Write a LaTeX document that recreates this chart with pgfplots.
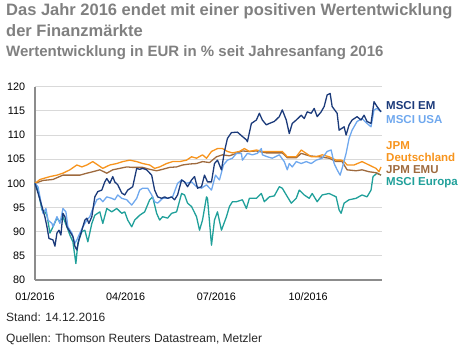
\documentclass[border=0pt]{standalone}
\usepackage{fontspec}
\setmainfont{Liberation Sans}
\usepackage{pgfplots}
\pgfplotsset{compat=1.18}
\definecolor{em}{HTML}{1B3A7A}
\definecolor{usa}{HTML}{6FA8EE}
\definecolor{de}{HTML}{F7941D}
\definecolor{emu}{HTML}{9E6A3E}
\definecolor{eur}{HTML}{20A09A}
\definecolor{titlegrey}{HTML}{808080}
\definecolor{axisgrey}{HTML}{8C8C8C}
\definecolor{gridgrey}{HTML}{D9D9D9}
\begin{document}
\begin{tikzpicture}
\useasboundingbox (0pt,0pt) rectangle (467pt,355pt);
\begin{axis}[at={(35pt,75pt)}, anchor=south west, scale only axis,
  width=347pt, height=193.3pt,
  xmin=0, xmax=348, ymin=80, ymax=120,
  axis x line*=bottom, axis y line*=left,
  axis line style={-, draw=axisgrey, line width=2.2pt},
  ytick={80,85,...,120},
  xtick={0,91,182,274},
  xticklabels={01/2016,04/2016,07/2016,10/2016},
  ymajorgrids, grid style={gridgrey, line width=0.8pt},
  major tick length=0pt,
  tick label style={font=\fontsize{10.8}{12}\selectfont, text=black},
  xticklabel style={anchor=base, yshift=-20.7pt},
  yticklabel style={anchor=east, xshift=-6.4pt},
  /pgf/number format/assume math mode=true,
  every axis plot/.append style={line width=1.3pt, no markers, line join=round},
  clip=false]
\addplot[eur] coordinates {(0,100)(3,98.6)(7,94.5)(10,94.1)(12,93.4)(15,89.7)(18,91)(22,92.8)(25,92.1)(28,93.1)(32,91)(35,89.3)(38,87.9)(41,83.4)(43,87.6)(47,90)(50,90.3)(53,87.9)(57,91.7)(60,93.4)(65,94.1)(68,91.7)(72,94.8)(77,94.1)(82,94.8)(87,93.8)(90,94.1)(93,92.4)(97,91)(100,92.4)(105,93.4)(110,94.1)(115,96.6)(118,97.2)(122,93.8)(125,92.4)(128,93.1)(133,92.8)(137,93.8)(142,94.1)(147,97.9)(150,97.6)(153,95.9)(157,95.2)(162,93.1)(165,90.3)(168,92.4)(172,97.2)(173,96.9)(177,87.2)(180,92.4)(183,94.1)(187,90.3)(192,93.1)(195,95.2)(198,96.2)(202,96.2)(208,96.6)(212,94.8)(215,96.9)(222,96.9)(227,97.9)(230,96.2)(235,97.2)(240,97.4)(245,99.3)(248,99)(252,97.6)(257,95.9)(262,96.9)(265,98.6)(270,97.6)(275,96.9)(278,97.9)(283,96.2)(288,97.6)(295,97.9)(302,97.2)(305,94.5)(307,93.8)(310,95.9)(315,96.6)(322,96.9)(328,97.6)(333,97.2)(337,98.6)(339,101.4)(343,102.1)(347,101.7)};
\addplot[emu] coordinates {(0,100)(8,100.6)(18,100.8)(28,101.7)(35,101.7)(45,101.7)(52,102.1)(58,102.4)(65,102.8)(72,102.1)(78,102.8)(85,103.1)(92,103.4)(98,103.3)(108,103.3)(115,102.9)(122,102.6)(128,102.9)(135,103.3)(142,103.4)(148,103.8)(155,104)(162,104.1)(168,104.5)(175,104.3)(182,105.5)(188,105.9)(195,105.7)(202,106.2)(208,106.7)(215,106.6)(222,106.7)(232,106.3)(242,106.3)(248,106.3)(253,105.3)(262,105.3)(267,106.2)(275,105.7)(285,105.5)(295,105.2)(302,104.5)(308,104.5)(313,102.8)(322,102.6)(328,102.8)(335,102.4)(342,102.2)(347,101.7)};
\addplot[de] coordinates {(0,100)(5,100.8)(15,101.4)(22,101.7)(28,102.1)(35,102.8)(42,103.8)(47,103.4)(52,103.8)(58,104.5)(63,103.8)(68,103.1)(75,103.8)(82,104.1)(88,104.5)(95,104.8)(102,104.5)(108,104.1)(115,103.8)(120,103.1)(125,103.4)(132,104.1)(138,104.5)(145,104.5)(152,104.8)(157,105.5)(162,105.2)(168,105.9)(172,105.2)(177,106.6)(183,107.2)(188,107.2)(193,106.6)(198,106.3)(205,106.6)(210,107.2)(215,106.6)(222,106.9)(228,106.6)(238,106.6)(248,106.6)(253,105.5)(262,105.5)(267,106.9)(272,106.2)(277,105.5)(282,105.5)(288,105.9)(295,105.5)(302,104.8)(307,104.8)(310,104.5)(313,103.8)(320,103.8)(328,104.5)(335,103.8)(342,103.1)(345,102.4)(347,103.4)};
\addplot[usa] coordinates {(0,100)(3,99.3)(5,97.2)(8,93.8)(11,94.8)(13,92.4)(17,91.7)(18,91)(22,93.1)(25,91.7)(28,94.8)(31,94.1)(33,91)(37,89.7)(40,87.6)(42,88.3)(45,89.7)(48,91)(52,92.4)(55,93.1)(58,94.8)(62,96.6)(65,96.9)(68,96.2)(72,97.2)(77,96.9)(80,96.6)(83,97.6)(87,96.9)(92,96.6)(97,95.5)(102,96.9)(105,98.6)(108,99)(113,99)(117,97.6)(120,96.2)(123,95.9)(128,96.9)(133,96.9)(138,97.2)(143,100)(147,100.7)(152,100)(157,100.3)(162,99.3)(167,99)(172,99.7)(177,98.6)(181,101.7)(185,100.7)(189,103.8)(193,104.8)(198,105.2)(202,106.2)(207,106.2)(208,104.8)(213,106.2)(218,105.9)(223,106.2)(227,107.2)(228,105.9)(233,105.5)(238,105.2)(245,105.9)(250,104.5)(253,102.8)(255,104.1)(258,103.4)(262,104.5)(267,104.1)(272,104.5)(277,104.1)(282,104.8)(288,105.2)(293,106.6)(297,106.9)(300,104.1)(303,102.8)(306,101.7)(308,103.1)(312,106.2)(315,109.3)(318,111)(323,112.8)(328,113.4)(333,112.4)(337,111.7)(340,115.2)(343,115.5)(347,114.8)};
\addplot[em] coordinates {(0,100)(3,98)(7,95.2)(10,93)(12,91)(14,88.6)(18,88.3)(20,87)(22,89.7)(24,90.3)(26,89.3)(28,93.8)(30,93.1)(32,91)(35,90)(38,89)(40,87)(42,86.2)(44,88.3)(47,90.3)(50,92.4)(52,92.8)(54,91.7)(57,93.1)(60,97.2)(63,98.3)(67,98.6)(70,100.3)(72,101)(75,100)(78,101.4)(80,100.3)(83,99.7)(87,98)(90,97.6)(93,98.6)(98,99.3)(102,103.1)(105,102.9)(108,103.1)(112,102.8)(117,101.7)(120,98.6)(123,97.2)(127,96.9)(130,97.2)(133,96.9)(137,97.2)(140,96.6)(143,97.6)(147,100.7)(150,100.3)(153,99.3)(157,100.7)(160,101.4)(163,99)(167,99.3)(170,101.7)(173,100.3)(177,100.3)(180,104.1)(183,104.8)(187,102.8)(190,106.6)(193,109.3)(197,110.5)(203,110.6)(208,109.7)(212,109)(213,108.6)(217,112.4)(222,113.1)(225,114.5)(228,113.1)(232,112.1)(235,112.4)(240,112.8)(245,113.8)(248,115.2)(252,113.1)(255,110.3)(258,112.4)(262,113.1)(267,114.1)(270,113.4)(273,114.8)(277,114.5)(280,115.5)(283,113.8)(287,114.8)(290,115.9)(293,118.3)(296,118.6)(298,115.9)(303,114.5)(305,111)(310,111.7)(312,110)(315,112.1)(318,113.1)(323,113.8)(327,113.1)(330,114.1)(333,112.8)(337,112.4)(340,116.9)(343,115.9)(347,114.8)};
\end{axis}
% titles
\node[anchor=base west, inner sep=0, text=titlegrey, font=\bfseries\fontsize{16.5}{18}\selectfont] at (6pt,339pt) {Das Jahr 2016 endet mit einer positiven Wertentwicklung};
\node[anchor=base west, inner sep=0, text=titlegrey, font=\bfseries\fontsize{16.5}{18}\selectfont] at (6pt,318.3pt) {der Finanzmärkte};
\node[anchor=base west, inner sep=0, text=titlegrey, font=\bfseries\fontsize{15}{16}\selectfont] at (6pt,298pt) {Wertentwicklung in EUR in \% seit Jahresanfang 2016};
% series labels
\begin{scope}[every node/.style={anchor=base west, inner sep=0, font=\bfseries\fontsize{11.5}{12}\selectfont}]
\node[text=em] at (386pt,245.7pt) {MSCI EM};
\node[text=usa] at (386pt,231.3pt) {MSCI USA};
\node[text=de] at (386pt,205pt) {JPM};
\node[text=de] at (386pt,193.3pt) {Deutschland};
\node[text=emu] at (386pt,181pt) {JPM EMU};
\node[text=eur] at (386pt,169.3pt) {MSCI Europa};
\end{scope}
% footer
\node[anchor=base west, inner sep=0, text=black!85, font=\fontsize{12}{14}\selectfont] at (6pt,33.3pt) {Stand: 14.12.2016};
\node[anchor=base west, inner sep=0, text=black!85, font=\fontsize{12}{14}\selectfont] at (6pt,12.7pt) {Quellen: Thomson Reuters Datastream, Metzler};
\end{tikzpicture}
\end{document}
